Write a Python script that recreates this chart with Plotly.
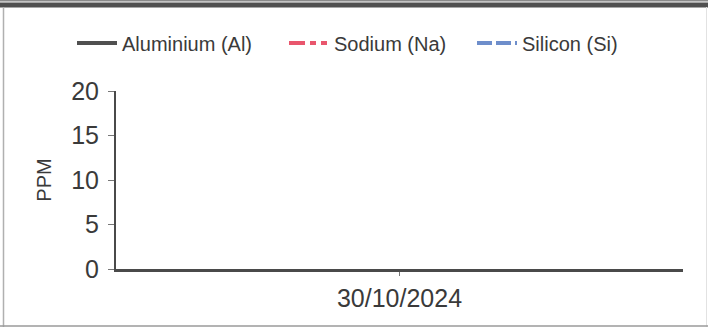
import plotly.graph_objects as go

# ---- data ----
dates = ["30/10/2024"]
aluminium = [0]
sodium = [0]
silicon = [0]
series_names = ["Aluminium (Al)", "Sodium (Na)", "Silicon (Si)"]
y_ticks = [0, 5, 10, 15, 20]

W, H = 708, 327
L, R, T, B = 116, 25, 91, 58
PW, PH = W - L - R, H - T - B


def px(x):
    return (x - L) / PW


def py(y):
    return (H - B - y) / PH


FONT = "Liberation Sans, Arial, sans-serif"
TXT = "#3a3a3a"

fig = go.Figure()
fig.add_trace(go.Scatter(x=dates, y=aluminium, name=series_names[0], mode="lines",
                         line=dict(color="#505050", width=4), legend="legend", showlegend=True))
fig.add_trace(go.Scatter(x=dates, y=sodium, name=series_names[1], mode="lines",
                         line=dict(color="#e9566d", width=4, dash="16px,5px,6px,5px,6px,5px"),
                         legend="legend2", showlegend=True))
fig.add_trace(go.Scatter(x=dates, y=silicon, name=series_names[2], mode="lines",
                         line=dict(color="#6e8ecb", width=4, dash="15px,4px"),
                         legend="legend3", showlegend=True))

leg_common = dict(orientation="h", yanchor="middle", xanchor="left", y=py(43),
                  font=dict(family=FONT, size=20, color=TXT), bgcolor="rgba(0,0,0,0)",
                  itemwidth=40, borderwidth=0, visible=True)

shapes = []
# scanned frame decorations
shapes.append(dict(type="rect", xref="paper", yref="paper", x0=px(0), x1=px(708), y0=py(7.5), y1=py(2.5),
                   fillcolor="#505050", line=dict(width=0), layer="above"))
shapes.append(dict(type="line", xref="paper", yref="paper", x0=px(0), x1=px(708), y0=py(0.7), y1=py(0.7),
                   line=dict(color="#8a8a8a", width=1.5), layer="above"))
shapes.append(dict(type="line", xref="paper", yref="paper", x0=px(3.5), x1=px(3.5), y0=py(7), y1=py(327),
                   line=dict(color="#b0b0b0", width=1.5), layer="above"))
shapes.append(dict(type="line", xref="paper", yref="paper", x0=px(706.5), x1=px(706.5), y0=py(7), y1=py(327),
                   line=dict(color="#e2e2e2", width=1), layer="above"))
shapes.append(dict(type="line", xref="paper", yref="paper", x0=px(0), x1=px(708), y0=py(326), y1=py(326),
                   line=dict(color="#9a9a9a", width=1.5), layer="above"))

fig.update_layout(
    width=W, height=H,
    margin=dict(l=L, r=R, t=T, b=B, pad=0, autoexpand=False),
    paper_bgcolor="white", plot_bgcolor="white",
    showlegend=True,
    font=dict(family=FONT, color=TXT),
    legend=dict(leg_common, x=px(72)),
    legend2=dict(leg_common, x=px(284)),
    legend3=dict(leg_common, x=px(472)),
    shapes=shapes,
    xaxis=dict(type="category", categoryarray=dates, showgrid=False, zeroline=False,
               showline=True, linecolor="#4a4a4a", linewidth=2.5,
               ticks="outside", ticklen=4, tickcolor="#777", tickwidth=1,
               tickfont=dict(family=FONT, size=25, color=TXT), ticklabelstandoff=1),
    yaxis=dict(range=[0, 20], tickvals=y_ticks, showgrid=False, zeroline=False,
               showline=True, linecolor="#4a4a4a", linewidth=2,
               ticks="outside", ticklen=6, tickcolor="#777", tickwidth=1,
               tickfont=dict(family=FONT, size=25, color=TXT), ticklabelstandoff=4,
               title=dict(text="PPM", font=dict(family=FONT, size=20, color=TXT), standoff=14)),
)

fig.write_html("out.html", config={"displayModeBar": False},
               post_script="document.body.style.margin='0px';document.body.style.overflow='hidden';")
